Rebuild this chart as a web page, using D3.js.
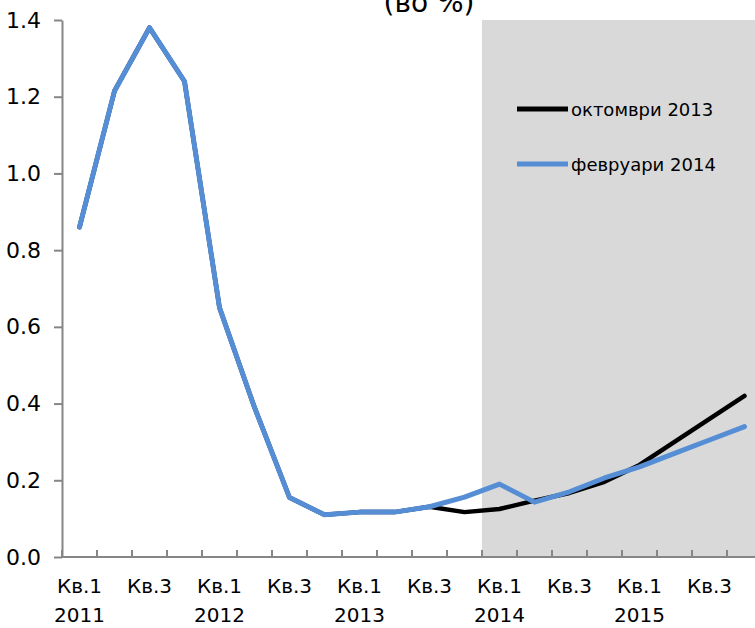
<!DOCTYPE html>
<html><head><meta charset="utf-8">
<script src="https://cdn.jsdelivr.net/npm/d3@7"></script>
<style>html,body{margin:0;padding:0;background:#fff;}</style>
</head><body>
<svg id="chart" width="755" height="628"></svg>
<script>
const quarters = ["2011Q1","2011Q2","2011Q3","2011Q4","2012Q1","2012Q2","2012Q3","2012Q4","2013Q1","2013Q2","2013Q3","2013Q4","2014Q1","2014Q2","2014Q3","2014Q4","2015Q1","2015Q2","2015Q3","2015Q4"];
const quarterLabels = ["Кв.1","","Кв.3","","Кв.1","","Кв.3","","Кв.1","","Кв.3","","Кв.1","","Кв.3","","Кв.1","","Кв.3",""];
const yearLabels = ["2011","","","","2012","","","","2013","","","","2014","","","","2015","","",""];
const october2013 = [0.86,1.215,1.38,1.24,0.65,0.39,0.155,0.11,0.117,0.117,0.131,0.117,0.125,0.147,0.167,0.196,0.24,0.30,0.36,0.42];
const february2014 = [0.86,1.215,1.38,1.24,0.65,0.39,0.155,0.11,0.117,0.117,0.131,0.156,0.19,0.143,0.17,0.206,0.235,0.27,0.305,0.34];
const seriesNames = ["октомври 2013","февруари 2014"];
const yTicks = [0,0.2,0.4,0.6,0.8,1.0,1.2,1.4];
const forecastStart = "2014Q1";
const title = "(во %)";

const svg = d3.select("#chart");
const x0 = 62, x1 = 762, yTop = 20, yBot = 557;
const x = d3.scaleBand().domain(quarters).range([x0, x1]).padding(0);
const y = d3.scaleLinear().domain([0, 1.4]).range([yBot, yTop]);
const axisColor = "#868686";
const font = "DejaVu Sans";

// shaded forecast region
svg.append("rect")
  .attr("x", x(forecastStart)).attr("y", yTop)
  .attr("width", x1 - x(forecastStart)).attr("height", yBot - yTop)
  .attr("fill", "#d9d9d9");

// title (top is cut off, as in the reference)
svg.append("text").attr("x", 429).attr("y", 12).attr("text-anchor", "middle")
  .attr("font-family", font).attr("font-size", 28).attr("fill", "#000").text(title);

// y axis
const yAxis = d3.axisLeft(y).tickValues(yTicks).tickFormat(d3.format(".1f")).tickSize(8).tickSizeOuter(0);
const gy = svg.append("g").attr("transform", `translate(${x0},0)`).call(yAxis);
gy.select(".domain").attr("stroke", axisColor).attr("stroke-width", 2);
gy.selectAll(".tick line").attr("stroke", axisColor).attr("stroke-width", 2);
gy.selectAll(".tick text").attr("font-family", font).attr("font-size", 22).attr("fill", "#000").attr("x", -21);

// x axis
const boundaries = quarters.map(q => x(q));
const gx = svg.append("g");
gx.append("line").attr("x1", x0).attr("x2", x1).attr("y1", yBot).attr("y2", yBot)
  .attr("stroke", axisColor).attr("stroke-width", 2);
gx.selectAll("line.t").data(boundaries).join("line").attr("class","t")
  .attr("x1", d => d).attr("x2", d => d).attr("y1", yBot - 7).attr("y2", yBot)
  .attr("stroke", axisColor).attr("stroke-width", 2);
gx.selectAll("text.q").data(quarters).join("text").attr("class","q")
  .attr("x", d => x(d) + x.bandwidth()/2).attr("y", 593).attr("text-anchor","middle")
  .attr("font-family", font).attr("font-size", 20).attr("fill", "#000")
  .text((d,i) => quarterLabels[i]);
gx.selectAll("text.yr").data(quarters).join("text").attr("class","yr")
  .attr("x", d => x(d) + x.bandwidth()/2).attr("y", 622).attr("text-anchor","middle")
  .attr("font-family", font).attr("font-size", 20).attr("fill", "#000")
  .text((d,i) => yearLabels[i]);

// lines
const line = d3.line().x((d,i) => x(quarters[i]) + x.bandwidth()/2).y(d => y(d));
svg.append("path").datum(october2013).attr("d", line).attr("fill","none")
  .attr("stroke", "#000").attr("stroke-width", 4.5).attr("stroke-linecap","round").attr("stroke-linejoin","round");
svg.append("path").datum(february2014).attr("d", line).attr("fill","none")
  .attr("stroke", "#558ED5").attr("stroke-width", 5).attr("stroke-linecap","round").attr("stroke-linejoin","round");

// legend
const legend = [{name: seriesNames[0], color: "#000", yy: 109}, {name: seriesNames[1], color: "#558ED5", yy: 164}];
const lg = svg.append("g");
lg.selectAll("line").data(legend).join("line")
  .attr("x1", 517).attr("x2", 568).attr("y1", d => d.yy).attr("y2", d => d.yy)
  .attr("stroke", d => d.color).attr("stroke-width", 5);
lg.selectAll("text").data(legend).join("text")
  .attr("x", 571).attr("y", d => d.yy + 7)
  .attr("font-family", font).attr("font-size", 18).attr("fill", "#000")
  .text(d => d.name);
</script>
</body></html>
